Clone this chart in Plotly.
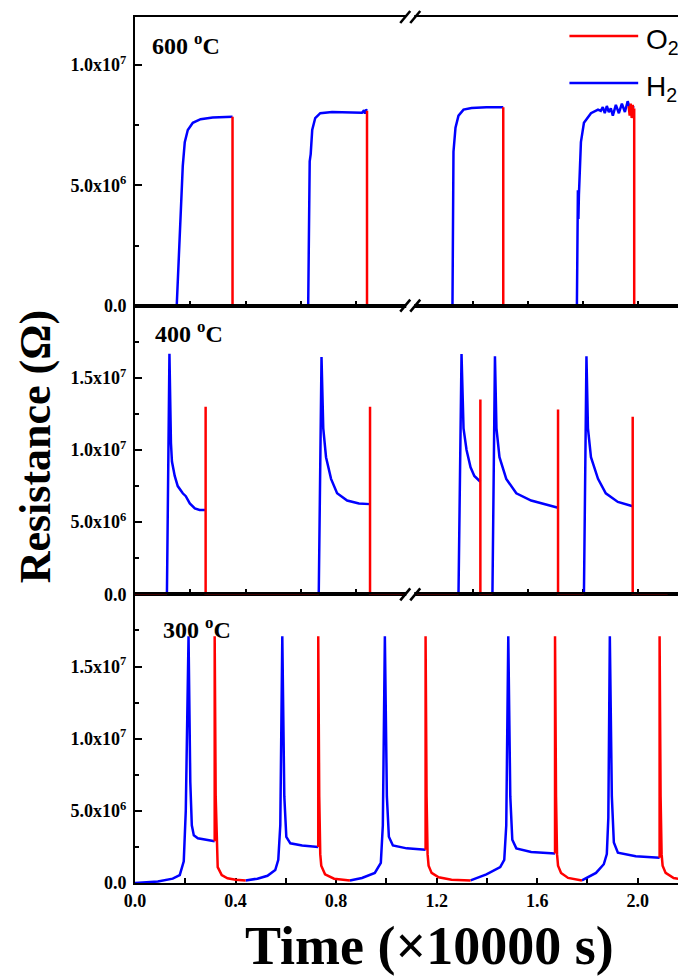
import plotly.graph_objects as go
from plotly.subplots import make_subplots

# ---------------- data (time in x10000 s, resistance in ohm) ----------------
N = None
# 600 C
t600_h2 = [0.166, 0.178, 0.190, 0.198, 0.210, 0.230, 0.261, 0.309, 0.349, 0.388, N,
           0.689, 0.695, 0.699, 0.705, 0.717, 0.737, 0.784, 0.844, 0.903, 0.911, 0.915, 0.919, 0.923, N,
           1.263, 1.267, 1.275, 1.287, 1.307, 1.339, 1.398, 1.465, N,
           1.758, 1.762, 1.764, 1.766, 1.774, 1.786, 1.814, 1.842, 1.853, 1.861, 1.869, 1.877,
           1.885, 1.893, 1.901, 1.913, 1.925, 1.937, 1.949, 1.960, 1.972, 1.984]
r600_h2 = [0, 3.0e6, 5.8e6, 6.8e6, 7.3e6, 7.6e6, 7.75e6, 7.82e6, 7.84e6, 7.85e6, N,
           0, 6.0e6, 6.3e6, 7.3e6, 7.8e6, 8.0e6, 8.05e6, 8.05e6, 8.02e6, 8.12e6, 7.98e6, 8.15e6, 8.1e6, N,
           0, 6.4e6, 7.4e6, 7.9e6, 8.15e6, 8.22e6, 8.25e6, 8.25e6, N,
           0, 4.8e6, 3.6e6, 4.6e6, 6.8e6, 7.6e6, 8.0e6, 8.15e6, 8.1e6, 8.25e6, 8.0e6, 8.3e6,
           8.05e6, 8.2e6, 7.9e6, 8.35e6, 8.0e6, 8.4e6, 8.05e6, 8.5e6, 8.1e6, 8.3e6]
t600_o2 = [0.0, 0.166, N, 0.388, 0.388, 0.689, N, 0.923, 0.923, 1.263, N, 1.465, 1.465, 1.758, N,
           1.964, 1.968, 1.972, 1.976, 1.980, 1.984, 1.986, 1.986, 2.119]
r600_o2 = [0, 0, N, 7.85e6, 0, 0, N, 8.1e6, 0, 0, N, 8.25e6, 0, 0, N,
           8.3e6, 7.9e6, 8.4e6, 7.8e6, 8.35e6, 7.9e6, 8.2e6, 0, 0]

# 400 C
t400_h2 = [0.127, 0.133, 0.137, 0.143, 0.147, 0.158, 0.170, 0.190, 0.202, 0.218, 0.238, 0.257, 0.281, N,
           0.731, 0.737, 0.742, 0.749, 0.760, 0.780, 0.804, 0.844, 0.891, 0.935, N,
           1.287, 1.293, 1.299, 1.307, 1.319, 1.335, 1.350, 1.374, N,
           1.422, 1.428, 1.432, 1.438, 1.450, 1.477, 1.517, 1.576, 1.636, 1.683, N,
           1.786, 1.792, 1.796, 1.802, 1.814, 1.842, 1.873, 1.921, 1.980]
r400_h2 = [0, 8.0e6, 1.667e7, 1.05e7, 9.2e6, 8.2e6, 7.5e6, 7.0e6, 6.8e6, 6.3e6, 5.95e6, 5.85e6, 5.85e6, N,
           0, 8.0e6, 1.645e7, 1.15e7, 9.5e6, 8.0e6, 7.0e6, 6.5e6, 6.3e6, 6.25e6, N,
           0, 8.0e6, 1.665e7, 1.15e7, 1.0e7, 8.8e6, 8.2e6, 7.8e6, N,
           0, 8.0e6, 1.65e7, 1.15e7, 9.5e6, 8.0e6, 7.0e6, 6.5e6, 6.2e6, 6.0e6, N,
           0, 8.0e6, 1.65e7, 1.15e7, 9.5e6, 8.0e6, 7.0e6, 6.4e6, 6.1e6]
t400_o2 = [0.0, 0.127, N, 0.281, 0.281, 0.281, 0.731, N, 0.935, 0.935, 0.935, 1.287, N,
           1.374, 1.374, 1.374, 1.422, N, 1.683, 1.683, 1.683, 1.786, N, 1.980, 1.980, 1.980, 2.119]
r400_o2 = [0, 0, N, 5.85e6, 1.30e7, 0, 0, N, 6.25e6, 1.30e7, 0, 0, N,
           7.8e6, 1.35e7, 0, 0, N, 6.0e6, 1.28e7, 0, 0, N, 6.1e6, 1.23e7, 0, 0]

# 300 C
t300_h2 = [0.0, 0.091, 0.150, 0.178, 0.194, 0.202, 0.213, 0.220, 0.226, 0.234, 0.250, 0.289, 0.317, N,
           0.440, 0.487, 0.527, 0.558, 0.570, 0.578, 0.586, 0.594, 0.602, 0.618, 0.665, 0.729, N,
           0.855, 0.903, 0.954, 0.978, 0.986, 0.994, 1.002, 1.010, 1.026, 1.081, 1.156, N,
           1.335, 1.398, 1.453, 1.469, 1.477, 1.485, 1.493, 1.501, 1.517, 1.576, 1.671, N,
           1.778, 1.834, 1.865, 1.877, 1.883, 1.889, 1.897, 1.905, 1.921, 1.992, 2.087]
r300_h2 = [0, 0.1e6, 0.3e6, 0.55e6, 1.5e6, 5.0e6, 1.71e7, 7.0e6, 4.0e6, 3.3e6, 3.1e6, 3.0e6, 2.9e6, N,
           0.18e6, 0.3e6, 0.5e6, 0.9e6, 1.6e6, 4.0e6, 1.71e7, 6.0e6, 3.2e6, 2.75e6, 2.6e6, 2.5e6, N,
           0.17e6, 0.35e6, 0.7e6, 1.4e6, 4.0e6, 1.71e7, 6.0e6, 3.2e6, 2.6e6, 2.4e6, 2.3e6, N,
           0.18e6, 0.6e6, 1.1e6, 1.6e6, 4.0e6, 1.71e7, 6.0e6, 3.0e6, 2.4e6, 2.15e6, 2.05e6, N,
           0.18e6, 0.7e6, 1.3e6, 2.0e6, 4.5e6, 1.71e7, 6.0e6, 2.8e6, 2.1e6, 1.85e6, 1.75e6]
t300_o2 = [0.317, 0.317, 0.321, 0.325, 0.329, 0.345, 0.368, 0.400, 0.440, N,
           0.729, 0.729, 0.733, 0.737, 0.741, 0.756, 0.792, 0.855, N,
           1.156, 1.156, 1.160, 1.164, 1.168, 1.180, 1.208, 1.259, 1.335, N,
           1.671, 1.671, 1.675, 1.679, 1.683, 1.695, 1.723, 1.778, N,
           2.087, 2.087, 2.091, 2.095, 2.099, 2.111, 2.143, 2.198]
r300_o2 = [2.9e6, 1.71e7, 6.0e6, 2.5e6, 1.1e6, 0.55e6, 0.33e6, 0.22e6, 0.18e6, N,
           2.5e6, 1.71e7, 6.0e6, 2.0e6, 1.2e6, 0.6e6, 0.3e6, 0.17e6, N,
           2.3e6, 1.71e7, 6.0e6, 2.0e6, 1.2e6, 0.7e6, 0.4e6, 0.22e6, 0.18e6, N,
           2.05e6, 1.71e7, 6.0e6, 2.0e6, 1.2e6, 0.7e6, 0.35e6, 0.18e6, N,
           1.75e6, 1.71e7, 6.0e6, 2.0e6, 1.2e6, 0.7e6, 0.35e6, 0.18e6]

panel_labels = ["600 <sup>o</sup>C", "400 <sup>o</sup>C", "300 <sup>o</sup>C"]
y_tickvals = [0, 5e6, 1e7, 1.5e7]
y_ticktext = ["<b>0.0</b>", "<b>5.0x10<sup>6</sup></b>", "<b>1.0x10<sup>7</sup></b>",
              "<b>1.5x10<sup>7</sup></b>"]
x_tickvals = [0.0, 0.4, 0.8, 1.2, 1.6, 2.0]
x_ticktext = ["<b>0.0</b>", "<b>0.4</b>", "<b>0.8</b>", "<b>1.2</b>", "<b>1.6</b>", "<b>2.0</b>"]
upper_xticks = [0.220, 0.440, 0.660, 0.879, 1.343, 1.562, 1.782, 2.002]
series_names = ["O<sub>2</sub>", "H<sub>2</sub>"]

RED = "#ff0000"
BLUE = "#0000ff"
SERIF = "Liberation Serif"

fig = make_subplots(rows=3, cols=1, shared_xaxes=True, vertical_spacing=0)

panels = [(t600_h2, r600_h2, t600_o2, r600_o2),
          (t400_h2, r400_h2, t400_o2, r400_o2),
          (t300_h2, r300_h2, t300_o2, r300_o2)]
for i, (th, rh, to, ro) in enumerate(panels, start=1):
    fig.add_trace(go.Scatter(x=th, y=rh, mode="lines", line=dict(color=BLUE, width=2.5),
                             name="H2", showlegend=False, connectgaps=False), row=i, col=1)
    fig.add_trace(go.Scatter(x=to, y=ro, mode="lines", line=dict(color=RED, width=2.5),
                             name="O2", showlegend=False, connectgaps=False), row=i, col=1)

yranges = [[0, 1.2e7], [0, 2.0e7], [0, 2.0e7]]
for i in range(1, 4):
    fig.update_yaxes(row=i, col=1, range=yranges[i - 1], showline=True, linecolor="black",
                     linewidth=2, mirror=True, ticks="inside", ticklen=7, tickwidth=2,
                     tickcolor="black", tickmode="array", tickvals=y_tickvals, ticktext=y_ticktext,
                     tickfont=dict(family=SERIF, size=18, color="black"),
                     ticklabelstandoff=3, showgrid=False, zeroline=False, layer="below traces",
                     minor=dict(tickmode="linear", tick0=0, dtick=2.5e6, ticks="inside",
                                ticklen=4, tickwidth=2, tickcolor="black"))
    common_x = dict(range=[0, 2.2], showline=True, linecolor="black", linewidth=2, mirror=True,
                    showgrid=False, zeroline=False, layer="below traces")
    if i < 3:
        fig.update_xaxes(row=i, col=1, ticks="inside", ticklen=5, tickwidth=2, tickcolor="black",
                         tickmode="array", tickvals=upper_xticks, showticklabels=False, **common_x)
    else:
        fig.update_xaxes(row=i, col=1, ticks="inside", ticklen=5, tickwidth=2, tickcolor="black",
                         tickmode="array", tickvals=x_tickvals, ticktext=x_ticktext,
                         tickfont=dict(family=SERIF, size=18, color="black"),
                         minor=dict(tickmode="linear", tick0=0, dtick=0.2, ticks="inside",
                                    ticklen=5, tickwidth=2, tickcolor="black"),
                         **common_x)

# geometry helpers (plot area: x 127..682, y 9..875 px)
def px_x(px):
    return (px - 127) / 555.0

def px_y(py):
    return (875 - py) / 866.0

annotations = []
label_pos = [(142, 36), (145, 324), (153, 620)]
for txt, (lx, ly) in zip(panel_labels, label_pos):
    annotations.append(dict(text=txt, x=px_x(lx), y=px_y(ly), xref="paper", yref="paper",
                            xanchor="left", yanchor="middle", showarrow=False,
                            font=dict(family=SERIF, size=24, color="black", weight="bold")))

annotations.append(dict(text="Resistance (Ω)", x=px_x(28), y=px_y(438), xref="paper", yref="paper",
                        textangle=-90, xanchor="center", yanchor="middle", showarrow=False,
                        font=dict(family=SERIF, size=44, color="black", weight="bold")))
annotations.append(dict(text="Time (×10000 s)", x=px_x(423), y=px_y(938), xref="paper", yref="paper",
                        xanchor="center", yanchor="middle", showarrow=False,
                        font=dict(family=SERIF, size=54, color="black", weight="bold")))

# legend (drawn manually to match long line samples)
shapes = []
leg_rows = [(series_names[0], RED, 28), (series_names[1], BLUE, 75)]
for name, col, ly in leg_rows:
    shapes.append(dict(type="line", xref="paper", yref="paper", x0=px_x(563), x1=px_x(632),
                       y0=px_y(ly), y1=px_y(ly), line=dict(color=col, width=2.5)))
    annotations.append(dict(text=name, x=px_x(638), y=px_y(ly + 5), xref="paper", yref="paper",
                            xanchor="left", yanchor="middle", showarrow=False,
                            font=dict(family="Liberation Sans", size=28, color="black")))

# axis break marks
for yb in [1.0, 2 / 3, 1 / 3]:
    shapes.append(dict(type="rect", xref="x", yref="paper", xsizemode="pixel", ysizemode="pixel",
                       xanchor=1.095, yanchor=yb, x0=-4, x1=4, y0=-3, y1=3,
                       fillcolor="white", line=dict(width=0), layer="above"))
    for dx in (-5, 5):
        shapes.append(dict(type="line", xref="x", yref="paper", xsizemode="pixel", ysizemode="pixel",
                           xanchor=1.095, yanchor=yb, x0=dx - 5, x1=dx + 5, y0=-6, y1=6,
                           line=dict(color="black", width=2.5), layer="above"))

fig.update_layout(width=686, height=978, margin=dict(l=127, r=4, t=9, b=103),
                  paper_bgcolor="white", plot_bgcolor="white", showlegend=False,
                  annotations=list(fig.layout.annotations) + annotations, shapes=shapes)

fig.write_html("out.html")
